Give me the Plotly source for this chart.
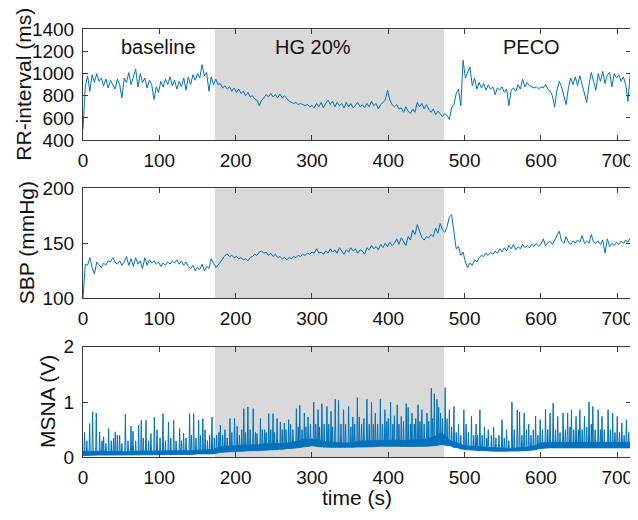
import plotly.graph_objects as go

# ---------------- data ----------------
rr_time = [3 * i for i in range(240)]  # s
rr_interval = [
    500, 880, 980, 840, 990, 920, 1000, 930, 960, 890, 950, 870, 940, 900, 860, 950, 900, 780, 960, 920,
    1010, 900, 960, 1040, 880, 1000, 920, 960, 870, 940, 900, 765, 880, 830, 930, 880, 950, 900, 970, 890,
    940, 860, 930, 880, 960, 850, 970, 900, 990, 940, 1000, 960, 1080, 980, 1010, 840, 970, 900, 950, 900,
    910, 870, 890, 860, 880, 840, 870, 830, 860, 820, 840, 800, 830, 790, 800, 770, 760, 710, 760, 780,
    810, 790, 820, 790, 810, 780, 815, 780, 800, 770, 750, 740, 730, 740, 720, 730, 720, 710, 720, 700,
    710, 690, 730, 700, 740, 690, 730, 760, 720, 750, 700, 740, 710, 730, 690, 740, 700, 730, 690, 720,
    740, 700, 720, 690, 730, 700, 750, 710, 730, 680, 720, 740, 760, 850, 760, 720, 700, 720, 680, 690,
    650, 700, 660, 640, 680, 650, 740, 700, 730, 680, 720, 680, 650, 680, 630, 660, 640, 610, 640, 620,
    585, 690, 720, 820, 860, 710, 1120, 960, 1010, 1060, 890, 960, 860, 920, 870, 910, 850, 900, 860, 880,
    810, 870, 850, 880, 830, 860, 710, 850, 870, 840, 900, 860, 950, 880, 920, 890, 880, 870, 880, 860,
    880, 870, 900, 860, 840, 800, 700, 850, 930, 880, 800, 720, 870, 960, 900, 970, 890, 980, 900, 820,
    740, 900, 1010, 930, 850, 1000, 930, 1020, 910, 990, 1010, 880, 1000, 960, 990, 930, 970, 900, 750, 1000,
]

sbp_time = [3 * i for i in range(240)]  # s
sbp = [
    100, 131, 130, 137, 128, 122, 133, 130, 128, 132, 130, 134, 133, 137, 133, 131, 134, 130, 133, 138,
    130, 136, 129, 137, 131, 134, 127, 137, 130, 135, 132, 134, 131, 133, 129, 132, 130, 133, 131, 134,
    132, 135, 131, 134, 130, 133, 129, 127, 130, 125, 128, 126, 131, 125, 129, 127, 136, 132, 128, 130,
    133, 136, 139, 140, 138, 139, 137, 138, 136, 137, 135, 136, 134, 137, 138, 140, 139, 142, 143, 141,
    142, 139, 141, 138, 140, 137, 138, 136, 137, 135, 137, 136, 138, 137, 139, 138, 140, 139, 141, 140,
    142, 141, 145, 141, 142, 140, 143, 141, 145, 142, 144, 141, 146, 143, 140, 144, 142, 146, 143, 145,
    141, 144, 143, 140, 146, 144, 148, 145, 147, 144, 149, 146, 150, 147, 151, 148, 150, 154, 149, 155,
    151, 148, 156, 153, 162, 158, 167, 160, 155, 153, 156, 155, 158, 156, 164, 159, 168, 162, 160, 165,
    174, 176, 160, 145, 147, 139, 142, 133, 128, 132, 130, 135, 133, 137, 139, 138, 141, 139, 142, 140,
    143, 141, 145, 142, 146, 143, 148, 145, 149, 144, 147, 145, 149, 146, 148, 146, 149, 147, 150, 147,
    149, 154, 148, 150, 152, 149, 153, 157, 161, 152, 150, 156, 151, 149, 152, 150, 153, 151, 157, 150,
    152, 150, 158, 151, 150, 152, 149, 153, 141, 154, 147, 150, 148, 151, 149, 152, 150, 153, 151, 155,
]

# MSNA: background (noise band) envelope every 10 s, plus individual bursts
msna_env_time = [10 * i for i in range(73)]
msna_low = [
    0.03, 0.04, 0.04, 0.04, 0.04, 0.04, 0.04, 0.04, 0.05, 0.05, 0.05, 0.05, 0.05, 0.05, 0.05, 0.06, 0.06, 0.06,
    0.09, 0.10, 0.11, 0.11, 0.12, 0.12, 0.13, 0.13, 0.14, 0.15, 0.17, 0.19, 0.21, 0.19, 0.18, 0.18, 0.18, 0.18,
    0.19, 0.19, 0.19, 0.20, 0.20, 0.20, 0.19, 0.19, 0.20, 0.20, 0.21, 0.23,
    0.21, 0.17, 0.14, 0.13, 0.12, 0.12, 0.11, 0.11, 0.11, 0.11, 0.12, 0.13,
    0.16, 0.17, 0.17, 0.17, 0.18, 0.18, 0.18, 0.18, 0.17, 0.17, 0.17, 0.17, 0.17,
]
msna_high = [
    0.11, 0.10, 0.10, 0.10, 0.11, 0.10, 0.10, 0.11, 0.11, 0.11, 0.12, 0.11, 0.12, 0.12, 0.12, 0.13, 0.13, 0.14,
    0.19, 0.20, 0.21, 0.22, 0.23, 0.23, 0.25, 0.25, 0.25, 0.26, 0.29, 0.32, 0.33, 0.31, 0.28, 0.27, 0.26, 0.26,
    0.29, 0.30, 0.30, 0.31, 0.31, 0.31, 0.30, 0.31, 0.32, 0.33, 0.37, 0.45,
    0.31, 0.26, 0.21, 0.20, 0.19, 0.18, 0.17, 0.17, 0.16, 0.17, 0.18, 0.20,
    0.26, 0.27, 0.27, 0.28, 0.28, 0.28, 0.28, 0.28, 0.27, 0.27, 0.27, 0.27, 0.26,
]
burst_time = [
    2, 5, 8.7, 12.6, 17.4, 21.8, 25, 27, 30, 33.6, 37, 40, 42.3, 45, 48, 51, 55.5, 59, 62.9, 65.5,
    69, 72.9, 76.4, 79, 82.5, 86, 89, 93.5, 97, 101, 104.8, 108, 112, 115, 118.8, 122, 126.6, 129, 131.8, 135,
    139.7, 142, 145, 148, 151.5, 154, 157, 160, 163, 166, 169, 172,
    175, 178, 180, 183, 186, 189, 192.5, 195, 198.6, 202, 205, 208, 210.7, 213, 216, 219, 223, 226, 228, 232.5,
    235, 238, 240, 243.4, 246, 249, 251, 254.3, 258.6, 261, 263.8, 266, 269.5, 272, 275, 279.6, 282, 284, 287, 290,
    292, 294.9, 298, 302.3, 305, 308, 310, 313, 316, 319.6, 322, 325, 327, 330.5, 334.8, 338, 341.4, 344, 348, 351,
    353.6, 356, 359.5, 362, 365, 368, 372, 375, 378, 380.5, 383, 386, 389.6, 392.5, 395.6, 398, 400, 403, 406, 408,
    411.7, 414, 417, 420, 423.5, 426, 429, 431, 434, 436, 439, 441.5, 444, 447, 450.7, 453, 456.4, 458, 460.3, 463.8,
    466, 468.5, 471, 474.5, 477,
    480, 483, 486, 489, 492, 495, 499, 502, 505, 509, 512, 515, 517, 520, 523, 526, 529, 531, 535, 538,
    541, 545, 549, 552, 555, 558, 562, 565, 569, 572, 575, 578, 581, 584, 587, 590, 593, 596, 599, 602,
    606, 609, 612, 616, 619, 622, 625, 629, 632, 635, 638, 640, 643, 646, 649, 651, 654, 657, 660, 663,
    666, 668, 671, 675, 678, 680, 683, 688, 691, 694, 697, 700, 703, 706, 709, 712, 715, 718,
]
burst_amp = [
    0.45, 0.30, 0.61, 0.82, 0.80, 0.46, 0.30, 0.37, 0.25, 0.52, 0.30, 0.35, 0.46, 0.40, 0.40, 0.25, 0.78, 0.30, 0.56, 0.47,
    0.30, 0.58, 0.67, 0.35, 0.67, 0.30, 0.43, 0.73, 0.50, 0.35, 0.79, 0.30, 0.64, 0.35, 0.67, 0.30, 0.52, 0.30, 0.44, 0.35,
    0.79, 0.40, 0.79, 0.35, 0.67, 0.40, 0.70, 0.50, 0.30, 0.40, 0.73, 0.35,
    0.40, 0.45, 0.58, 0.40, 0.50, 0.35, 0.70, 0.45, 0.70, 0.56, 0.40, 0.50, 0.88, 0.45, 0.91, 0.50, 0.88, 0.45, 0.43, 0.70,
    0.50, 0.50, 0.45, 0.79, 0.50, 0.79, 0.45, 0.70, 0.64, 0.50, 0.62, 0.50, 0.68, 0.60, 0.50, 0.88, 0.55, 0.94, 0.50, 0.80,
    0.55, 0.73, 0.60, 1.00, 0.60, 0.86, 0.55, 0.97, 0.60, 0.92, 0.60, 0.83, 0.55, 1.05, 1.03, 0.60, 0.86, 0.60, 0.92, 0.55,
    0.73, 0.60, 1.08, 0.73, 0.60, 0.70, 1.05, 0.60, 1.00, 0.60, 0.80, 0.60, 1.05, 0.60, 0.86, 0.65, 0.70, 1.00, 0.60, 0.75,
    0.95, 0.60, 0.74, 0.65, 0.97, 0.90, 0.60, 0.80, 0.60, 0.70, 0.95, 0.65, 0.86, 0.60, 0.80, 0.65, 1.25, 0.70, 1.15, 1.05,
    0.90, 0.80, 0.70, 1.26, 0.70,
    0.86, 0.55, 0.92, 0.45, 0.60, 0.40, 0.86, 0.60, 0.45, 0.74, 0.40, 0.60, 0.40, 0.86, 0.40, 0.55, 0.35, 0.50, 0.40, 0.55,
    0.35, 0.40, 0.68, 0.35, 0.50, 0.30, 1.00, 0.50, 0.86, 0.82, 0.40, 0.80, 0.50, 0.60, 0.40, 0.50, 0.74, 0.40, 0.68, 0.50,
    0.87, 0.50, 0.80, 0.98, 0.50, 0.74, 0.45, 0.80, 0.50, 0.80, 0.55, 0.86, 0.50, 0.74, 0.50, 0.86, 0.50, 0.74, 0.55, 1.00,
    0.60, 0.92, 0.50, 0.86, 0.50, 0.74, 0.50, 0.86, 0.50, 0.80, 0.45, 0.74, 0.45, 0.62, 0.40, 0.68, 0.45, 0.80,
]

phase_start = [0, 173, 473]
phase_end = [173, 473, 718]
phase_labels = ["baseline", "HG 20%", "PECO"]
phase_label_x = [99, 301, 588]

x_ticks = [0, 100, 200, 300, 400, 500, 600, 700]

# ---------------- styles ----------------
BLUE = "#0072BD"
AX = "#3a3a3a"
FONT = "Liberation Sans, Arial, Helvetica, sans-serif"

fig = go.Figure()

fig.add_trace(go.Scatter(x=rr_time, y=rr_interval, mode="lines",
                         line=dict(color=BLUE, width=1), xaxis="x", yaxis="y", showlegend=False))
fig.add_trace(go.Scatter(x=sbp_time, y=sbp, mode="lines",
                         line=dict(color=BLUE, width=1), xaxis="x2", yaxis="y2", showlegend=False))

# MSNA noise band
band_x = msna_env_time + msna_env_time[::-1]
band_y = msna_low + msna_high[::-1]
fig.add_trace(go.Scatter(x=band_x, y=band_y, mode="lines", fill="toself", fillcolor=BLUE,
                         line=dict(color=BLUE, width=0.8), xaxis="x3", yaxis="y3", showlegend=False))
# MSNA bursts
sx, sy = [], []
for t, a in zip(burst_time, burst_amp):
    base = msna_low[min(int(round(t / 10)), len(msna_low) - 1)]
    sx += [t - 0.8, t, t + 0.8, None]
    sy += [base, a, base, None]
fig.add_trace(go.Scatter(x=sx, y=sy, mode="lines", line=dict(color=BLUE, width=1),
                         xaxis="x3", yaxis="y3", showlegend=False))

# shaded handgrip period in each panel
for yr in ["y", "y2", "y3"]:
    fig.add_shape(type="rect", xref="x" if yr == "y" else "x" + yr[1:], yref=yr + " domain",
                  x0=phase_start[1], x1=phase_end[1], y0=0, y1=1,
                  fillcolor="#D9D9D9", line=dict(width=0), layer="below")

for lab, lx in zip(phase_labels, phase_label_x):
    fig.add_annotation(x=lx, y=1243, xref="x", yref="y", text=lab, showarrow=False,
                       font=dict(size=20, color="#111111", family=FONT))

# the page body adds an 8 px margin; page pixel = 8 + figure pixel
OFF = 8
W, H = 630, 504
L, R = 75, 7
pw = W - L - R

def px_to_paper_x(px):
    return (px - OFF - L) / pw

def py_to_paper_y(py):
    return 1 - (py - OFF) / H

ytitles = [("RR-interval (ms)", 24, 84.7), ("SBP (mmHg)", 26, 243.3), ("MSNA (V)", 47, 402)]
for txt, px, py in ytitles:
    fig.add_annotation(x=px_to_paper_x(px), y=py_to_paper_y(py), xref="paper", yref="paper", text=txt,
                       showarrow=False, textangle=-90, xanchor="center", yanchor="middle",
                       font=dict(size=21, color="#111111", family=FONT))
fig.add_annotation(x=px_to_paper_x(356.7), y=py_to_paper_y(497), xref="paper", yref="paper",
                   text="time (s)", showarrow=False, xanchor="center", yanchor="middle",
                   font=dict(size=21, color="#111111", family=FONT))

def xax(anchor):
    return dict(range=[0, 718], tickvals=x_ticks, ticks="inside", ticklen=5, tickcolor=AX,
                showline=True, linecolor=AX, linewidth=1, mirror="ticks", showgrid=False,
                zeroline=False, anchor=anchor, tickfont=dict(size=19, color="#111111", family=FONT),
                ticklabelstandoff=3, automargin=False, ticklabeloverflow="allow")

def yax(rng, dtick, dom, anchor):
    return dict(range=rng, dtick=dtick, tick0=rng[0], ticks="inside", ticklen=5, tickcolor=AX,
                showline=True, linecolor=AX, linewidth=1, mirror="ticks", showgrid=False,
                zeroline=False, domain=dom, anchor=anchor, automargin=False,
                tickfont=dict(size=19, color="#111111", family=FONT), ticklabelstandoff=4,
                ticklabeloverflow="allow")

fig.update_layout(
    width=W, height=H,
    margin=dict(l=L, r=R, t=0, b=0, autoexpand=False),
    paper_bgcolor="white", plot_bgcolor="white",
    xaxis=xax("y"), xaxis2=xax("y2"), xaxis3=xax("y3"),
    yaxis=yax([400, 1400], 200, [py_to_paper_y(140), py_to_paper_y(29.3)], "x"),
    yaxis2=yax([100, 200], 50, [py_to_paper_y(298.3), py_to_paper_y(188.3)], "x2"),
    yaxis3=yax([0, 2], 1, [py_to_paper_y(457.3), py_to_paper_y(346.7)], "x3"),
    showlegend=False,
)

fig.write_html("out.html")
